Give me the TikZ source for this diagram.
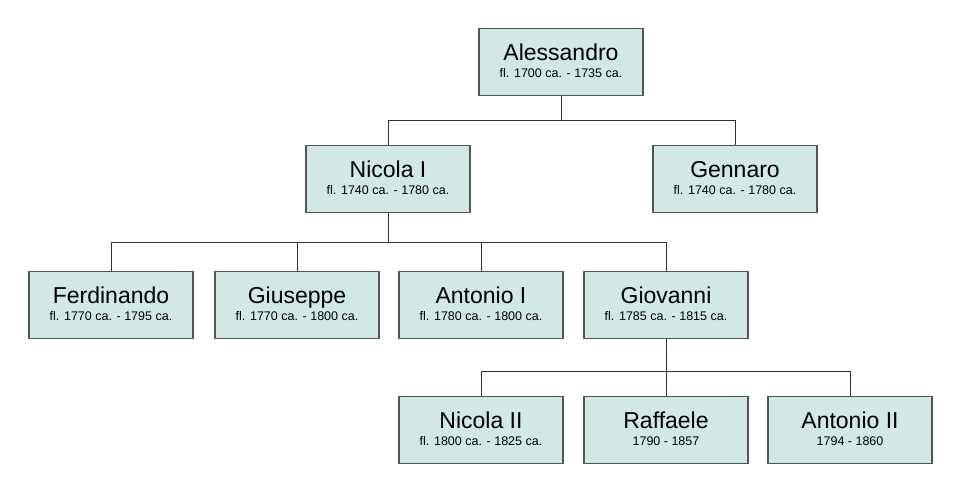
\documentclass[tikz,border=0pt]{standalone}
\usepackage{fontspec}
\setmainfont{Liberation Sans}
\definecolor{boxfill}{HTML}{D1E8E4}
\definecolor{boxline}{HTML}{555555}
\tikzset{
  person/.style={draw=boxline,fill=boxfill,line width=1.2pt,minimum width=164pt,minimum height=67pt,align=center,inner sep=0pt},
  link/.style={draw=black!80,line width=1pt}
}
\newcommand{\pers}[2]{{\fontsize{23}{26}\selectfont #1\vphantom{Alpg}}\\[3pt]{\fontsize{12.5}{14}\selectfont #2\vphantom{Alpg}}}
\begin{document}
\begin{tikzpicture}[x=1pt,y=-1pt]
\useasboundingbox (0,0) rectangle (960,493);

\node[person] (ales) at (561,62) {\pers{Alessandro}{fl. 1700 ca. - 1735 ca.}};

\node[person] (nic1) at (388,179) {\pers{Nicola I}{fl. 1740 ca. - 1780 ca.}};
\node[person] (genn) at (735,179) {\pers{Gennaro}{fl. 1740 ca. - 1780 ca.}};

\node[person] (ferd) at (111,305) {\pers{Ferdinando}{fl. 1770 ca. - 1795 ca.}};
\node[person] (gius) at (297,305) {\pers{Giuseppe}{fl. 1770 ca. - 1800 ca.}};
\node[person] (ant1) at (481,305) {\pers{Antonio I}{fl. 1780 ca. - 1800 ca.}};
\node[person] (giov) at (666,305) {\pers{Giovanni}{fl. 1785 ca. - 1815 ca.}};

\node[person] (nic2) at (481,430) {\pers{Nicola II}{fl. 1800 ca. - 1825 ca.}};
\node[person] (raff) at (666,430) {\pers{Raffaele}{1790 - 1857}};
\node[person] (ant2) at (850,430) {\pers{Antonio II}{1794 - 1860}};

% connectors
\coordinate (j1) at (561,120);
\coordinate (j2) at (388,242);
\coordinate (j3) at (666,371);
\draw[link] (ales.south) -- (j1);
\foreach \c in {nic1,genn} \draw[link] (j1) -| (\c.north);
\draw[link] (nic1.south) -- (j2);
\foreach \c in {ferd,gius,ant1,giov} \draw[link] (j2) -| (\c.north);
\draw[link] (giov.south) -- (j3);
\foreach \c in {nic2,raff,ant2} \draw[link] (j3) -| (\c.north);
\end{tikzpicture}
\end{document}
